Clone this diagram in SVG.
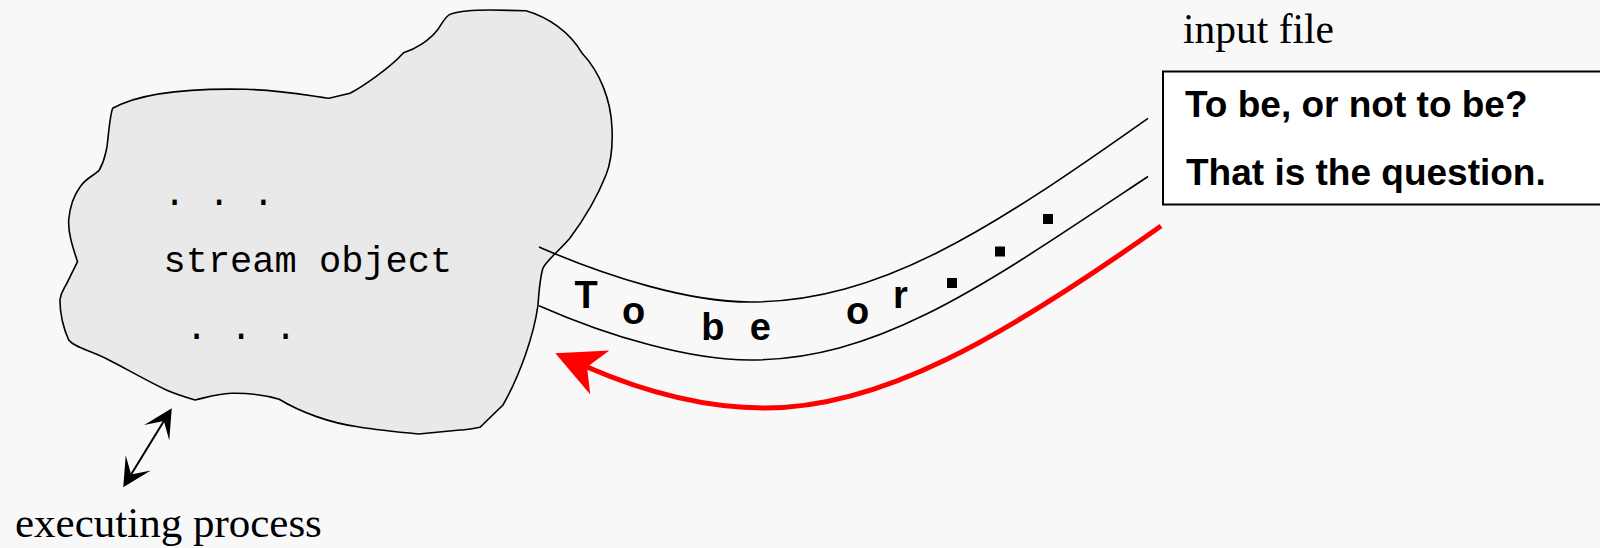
<svg xmlns="http://www.w3.org/2000/svg" width="1600" height="548" viewBox="0 0 1600 548">
<style>
.mono{font-family:"Liberation Mono","Courier New",monospace;font-size:37px;fill:#000}
.serif{font-family:"Liberation Serif","Times New Roman",serif;fill:#000}
.bold{font-family:"Liberation Sans",Arial,sans-serif;font-weight:bold;fill:#000}
.line{fill:none;stroke:#000;stroke-width:1.6}
</style>
<defs>
<marker id="redHead" markerUnits="userSpaceOnUse" orient="auto" overflow="visible" refX="0" refY="0" markerWidth="1" markerHeight="1">
<path d="M34.5,0 L-14,24 L0,0 L-14,-24 Z" fill="#ff0000"/>
</marker>
<marker id="blackHead" markerUnits="userSpaceOnUse" orient="auto-start-reverse" overflow="visible" refX="0" refY="0" markerWidth="1" markerHeight="1">
<path d="M15,0 L-13.7,14.7 L0,0 L-13.7,-14.7 Z" fill="#000"/>
</marker>
</defs>
<rect x="0" y="0" width="1600" height="548" fill="#f8f8f8"/>
<g id="stream-object">
<path d="M112.7,108.3 C140,93 185,88 246,89.3 C280,90 305,95 329,98.3 L350,93.3 C362,87 390,68 403.5,52.7 C416,49 430,40 438,29.3 C443,22 446,15 451,14 C460,11 475,10 490,10 L526,10.7 C548,17 570,32 581.7,52.7 C600,72 611,100 612,128 C613,150 610,165 606,175 C598,195 585,218 570,238 C560,250 547,260 543,268 C540,278 539,290 538,305 C534,335 520,375 503,405 L480,427.3 C470,429 465,430 460,430 L418.8,434 C398,432 378,430 357.6,426.7 C330,423 300,412 279.2,399.3 C265,395 245,393 231.3,393.3 C215,394 205,398 195,400 C185,397 175,394 166.3,390 C145,380 125,368 108.9,360 C90,350 75,348 68.7,340 C62,325 60,310 59.9,300 C61,292 64,289 66.8,283.3 L77.5,261.7 C72,245 68,232 68.7,220 C70,205 74,195 80.2,186.7 C86,178 95,175 99.3,170 C105,160 105,155 107,146.7 C109,130 110,115 112.7,108.3 Z" fill="#e9e9e9" stroke="#000" stroke-width="1.6"/>
<text class="mono" x="163.5" y="205">. . .</text>
<text class="mono" x="163.5" y="271.5">stream object</text>
<text class="mono" x="185.6" y="339">. . .</text>
</g>
<g id="input-file">
<text class="serif" font-size="41.5" x="1183" y="43.3">input file</text>
<rect x="1163" y="71.5" width="460" height="133" fill="#ffffff" stroke="#000" stroke-width="2"/>
<text class="bold" font-size="37" x="1185" y="117.3">To be, or not to be?</text>
<text class="bold" font-size="37" x="1186" y="185">That is the question.</text>
</g>
<g id="executing-process">
<text class="serif" font-size="43" x="15" y="536.7">executing process</text>
</g>
<g id="connectors">
<path class="line" d="M539,247 C610,278 690,302 750,302 C880,302 990,230 1148,118.3"/>
<path class="line" d="M539,305.7 C610,337 690,360 750,360 C880,360 985,285 1148,176.5"/>
<path d="M1161,226 C1000,340 880,408 765,408 C700,408 640,390 587,367" fill="none" stroke="#ff0000" stroke-width="5" marker-end="url(#redHead)"/>
<path d="M131.1,474.5 L163.9,421.1" fill="none" stroke="#000" stroke-width="2" marker-start="url(#blackHead)" marker-end="url(#blackHead)"/>
</g>
<g id="stream-content">
<text class="bold" font-size="38" x="574.5" y="308">T</text>
<text class="bold" font-size="38" x="622" y="324">o</text>
<text class="bold" font-size="38" x="701.3" y="340">b</text>
<text class="bold" font-size="38" x="749.8" y="340">e</text>
<text class="bold" font-size="38" x="846" y="324">o</text>
<text class="bold" font-size="38" x="893" y="308">r</text>
<rect x="947" y="278" width="10" height="10" fill="#000"/>
<rect x="995" y="246.5" width="10" height="10" fill="#000"/>
<rect x="1043" y="214" width="10" height="10" fill="#000"/>
</g>
</svg>
